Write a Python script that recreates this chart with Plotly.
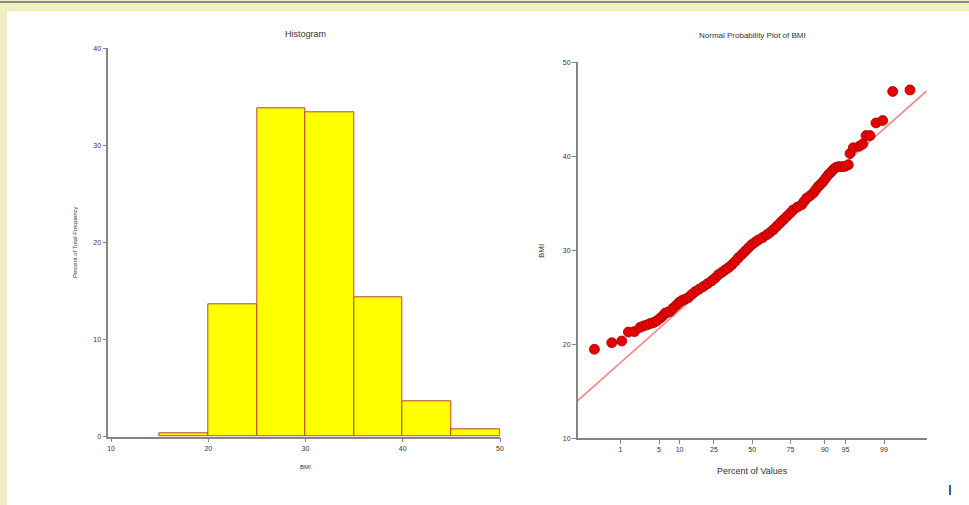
import plotly.graph_objects as go
from statistics import NormalDist

# ---------------- data ----------------
# Histogram of BMI (percent of total frequency per 5-unit bin)
bin_left = [15, 20, 25, 30, 35, 40, 45]
bin_width = 5
percent_freq = [0.4, 13.6, 33.8, 33.45, 14.4, 3.6, 0.78]

# Normal probability plot of BMI: normal scores (x) and BMI values (y)
normal_score = [-2.785, -2.478, -2.302, -2.185, -2.079, -1.979, -1.920, -1.860, -1.802,
                -1.744, -1.684, -1.626, -1.582, -1.538, -1.493, -1.449, -1.396, -1.331,
                -1.291, -1.243, -1.185, -1.126, -1.067, -1.008, -0.938, -0.862, -0.788,
                -0.714, -0.655, -0.597, -0.537, -0.479, -0.421, -0.361, -0.303, -0.244,
                -0.184, -0.126, -0.068, -0.008, 0.050, 0.109, 0.183, 0.257, 0.315, 0.373,
                0.433, 0.491, 0.550, 0.610, 0.668, 0.726, 0.800, 0.874, 0.915, 0.962,
                1.021, 1.079, 1.123, 1.167, 1.211, 1.255, 1.299, 1.344, 1.388, 1.432,
                1.476, 1.520, 1.580, 1.638, 1.696, 1.726, 1.785, 1.890, 1.950, 2.009,
                2.079, 2.185, 2.303, 2.480, 2.785]
bmi_values = [19.47, 20.17, 20.35, 21.3, 21.35, 21.8, 21.95, 22.06, 22.2,
              22.3, 22.5, 22.77, 23.0, 23.3, 23.4, 23.5, 23.85, 24.2,
              24.45, 24.65, 24.8, 24.97, 25.3, 25.6, 25.85, 26.14, 26.45,
              26.75, 27.05, 27.4, 27.65, 27.9, 28.15, 28.45, 28.8, 29.2,
              29.55, 29.9, 30.25, 30.6, 30.85, 31.1, 31.35, 31.65, 31.9, 32.2,
              32.55, 32.9, 33.25, 33.6, 33.95, 34.3, 34.6, 34.85, 35.2, 35.55,
              35.8, 36.1, 36.45, 36.8, 37.05, 37.33, 37.7, 38.04, 38.3, 38.6,
              38.8, 38.9, 38.9, 38.93, 39.1, 40.3, 40.9, 41.07, 41.3, 42.2,
              42.2, 43.55, 43.8, 46.9, 47.06]

# Reference (fitted normal) line
line_mean = 30.48
line_sd = 5.35

pct_ticks = [1, 5, 10, 25, 50, 75, 90, 95, 99]

# ---------------- figure ----------------
W, H = 969, 505
def px(x):
    return x / W
def py(y):
    return 1 - y / H

fig = go.Figure()

fig.add_trace(go.Bar(
    x=bin_left, y=percent_freq, width=bin_width, offset=0,
    marker=dict(color="#ffff00", line=dict(color="#b5433a", width=1)),
    xaxis="x", yaxis="y", showlegend=False, hoverinfo="x+y"))

xr = [-3.08, 3.08]
fig.add_trace(go.Scatter(
    x=xr, y=[line_mean + line_sd * z for z in xr], mode="lines",
    line=dict(color="#ff8080", width=1.5),
    xaxis="x2", yaxis="y2", showlegend=False, hoverinfo="skip"))

fig.add_trace(go.Scatter(
    x=normal_score, y=bmi_values, mode="markers",
    marker=dict(size=10, color="#e60000", line=dict(color="#a00000", width=0.8)),
    xaxis="x2", yaxis="y2", showlegend=False))

nd = NormalDist()
font_tick = dict(family="Liberation Sans, Arial, sans-serif", size=7, color="#333333")
axis_common = dict(showline=True, linecolor="#858585", linewidth=1.5, ticks="outside",
                   ticklen=4, tickcolor="#858585", showgrid=False, zeroline=False,
                   tickfont=font_tick, fixedrange=True, automargin=False)

fig.update_layout(
    width=W, height=H, margin=dict(l=0, r=0, t=0, b=0, pad=0),
    paper_bgcolor="white", plot_bgcolor="white",
    font=dict(family="Liberation Sans, Arial, sans-serif", color="#333333"),
    bargap=0,
    xaxis=dict(domain=[px(108.3), px(500)], range=[9.72, 50], tickvals=[10, 20, 30, 40, 50],
               anchor="y", **axis_common),
    yaxis=dict(domain=[py(436.7), py(48.3)], range=[0, 40], tickvals=[0, 10, 20, 30, 40],
               anchor="x", **axis_common),
    xaxis2=dict(domain=[px(577.7), px(926.7)], range=xr,
                tickvals=[nd.inv_cdf(p / 100) for p in pct_ticks],
                ticktext=[str(p) for p in pct_ticks], anchor="y2", **axis_common),
    yaxis2=dict(domain=[py(438.3), py(62.3)], range=[10, 50], tickvals=[10, 20, 30, 40, 50],
                anchor="x2", **axis_common),
)

# Frame (beige border like the reference window)
beige = "#efefc1"
fig.add_shape(type="rect", xref="paper", yref="paper", x0=0, x1=1, y0=py(11), y1=1,
              fillcolor=beige, line_width=0, layer="below")
fig.add_shape(type="rect", xref="paper", yref="paper", x0=0, x1=px(7), y0=0, y1=1,
              fillcolor=beige, line_width=0, layer="below")
fig.add_shape(type="line", xref="paper", yref="paper", x0=0, x1=1, y0=py(2), y1=py(2),
              line=dict(color="#8a8a8a", width=2))

def ann(text, x, y, size, angle=0, color="#333333"):
    fig.add_annotation(text=text, x=px(x), y=py(y), xref="paper", yref="paper",
                       showarrow=False, textangle=angle, xanchor="center", yanchor="middle",
                       font=dict(size=size, color=color, family="Liberation Sans, Arial, sans-serif"))

ann("Histogram", 305, 34, 9)
ann("Normal Probability Plot of BMI", 752, 36, 8)
ann("Percent of Total Frequency", 75, 242, 6, angle=-90)
ann("BMI", 305, 467, 6)
ann("BMI", 541, 251, 8, angle=-90)
ann("Percent of Values", 752, 471, 9)
ann("I", 950, 490, 14, color="black")

fig.write_html("out.html",
               config={"displayModeBar": False},
               post_script=("document.body.style.margin='0';"
                            "document.body.style.overflow='hidden';"
                            "document.documentElement.style.overflow='hidden';"))
